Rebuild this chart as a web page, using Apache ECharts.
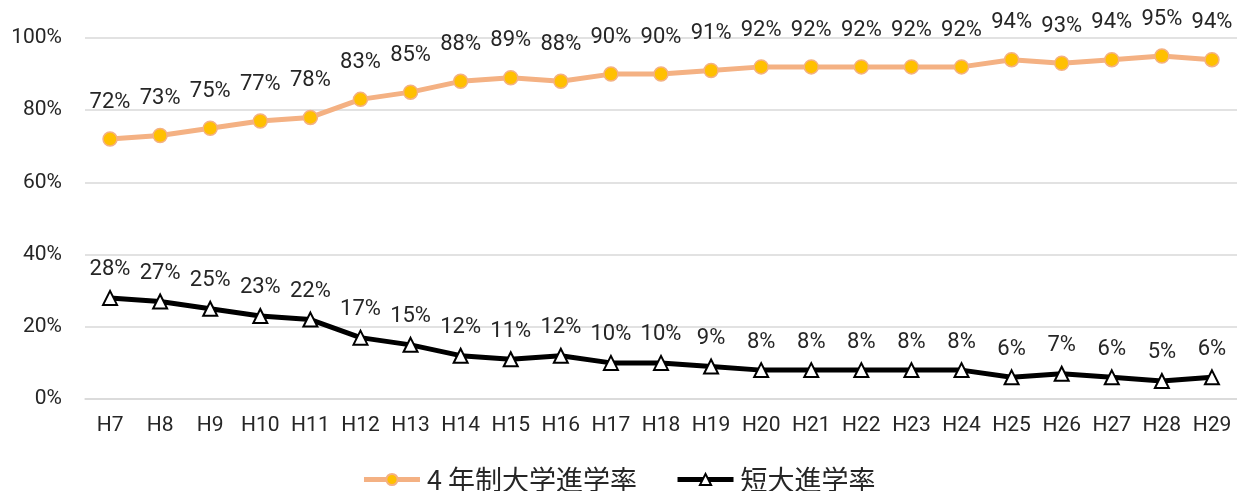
<!DOCTYPE html>
<html><head><meta charset="utf-8">
<script src="https://cdn.jsdelivr.net/npm/echarts@6/dist/echarts.min.js"></script>
<style>html,body{margin:0;padding:0;background:#fff}#c{width:1237px;height:491px}</style>
</head><body><div id="c"></div>
<script>
const categories = ['H7','H8','H9','H10','H11','H12','H13','H14','H15','H16','H17','H18','H19','H20','H21','H22','H23','H24','H25','H26','H27','H28','H29'];
const univRate = [72,73,75,77,78,83,85,88,89,88,90,90,91,92,92,92,92,92,94,93,94,95,94];
const juniorRate = [28,27,25,23,22,17,15,12,11,12,10,10,9,8,8,8,8,8,6,7,6,5,6];
const seriesNames = ['4 年制大学進学率','短大進学率'];

const numFont = 'Roboto,"Liberation Sans",sans-serif';
const chart = echarts.init(document.getElementById('c'));
chart.setOption({
  animation: false,
  grid: {left: 85, right: 0, top: 38, bottom: 92, containLabel: false},
  legend: {
    data: [
      {name: seriesNames[0], lineStyle: {width: 5}},
      {name: seriesNames[1], lineStyle: {width: 5}}
    ],
    bottom: -7, left: 'center', itemWidth: 56, itemHeight: 14, itemGap: 38,
    textStyle: {fontFamily: '"Noto Sans CJK JP",sans-serif', fontSize: 27, color: '#262626', padding: [0, 0, 0, 2]}
  },
  xAxis: {
    type: 'category', data: categories, boundaryGap: true,
    axisLine: {lineStyle: {color: '#d9d9d9', width: 1.5}}, axisTick: {show: false},
    axisLabel: {interval: 0, fontFamily: numFont, fontSize: 21, color: '#262626', margin: 16}
  },
  yAxis: {
    type: 'value', min: 0, max: 100, interval: 20,
    axisLabel: {formatter: '{value}%', fontFamily: numFont, fontSize: 21, color: '#262626', margin: 23},
    splitLine: {lineStyle: {color: '#d9d9d9', width: 1.5}}
  },
  series: [
    {
      name: seriesNames[0], type: 'line', data: univRate,
      symbol: 'circle', symbolSize: 14,
      lineStyle: {color: '#F4B183', width: 5},
      itemStyle: {color: '#FFC000', borderColor: '#F4B183', borderWidth: 1.5},
      label: {show: true, position: 'top', distance: 18, formatter: '{c}%', fontFamily: numFont, fontSize: 22, color: '#262626'}
    },
    {
      name: seriesNames[1], type: 'line', data: juniorRate,
      symbol: 'triangle', symbolSize: 14,
      lineStyle: {color: '#000000', width: 5},
      itemStyle: {color: '#ffffff', borderColor: '#000000', borderWidth: 2},
      label: {show: true, position: 'top', distance: 9, formatter: '{c}%', fontFamily: numFont, fontSize: 22, color: '#262626'}
    }
  ]
});
</script></body></html>
